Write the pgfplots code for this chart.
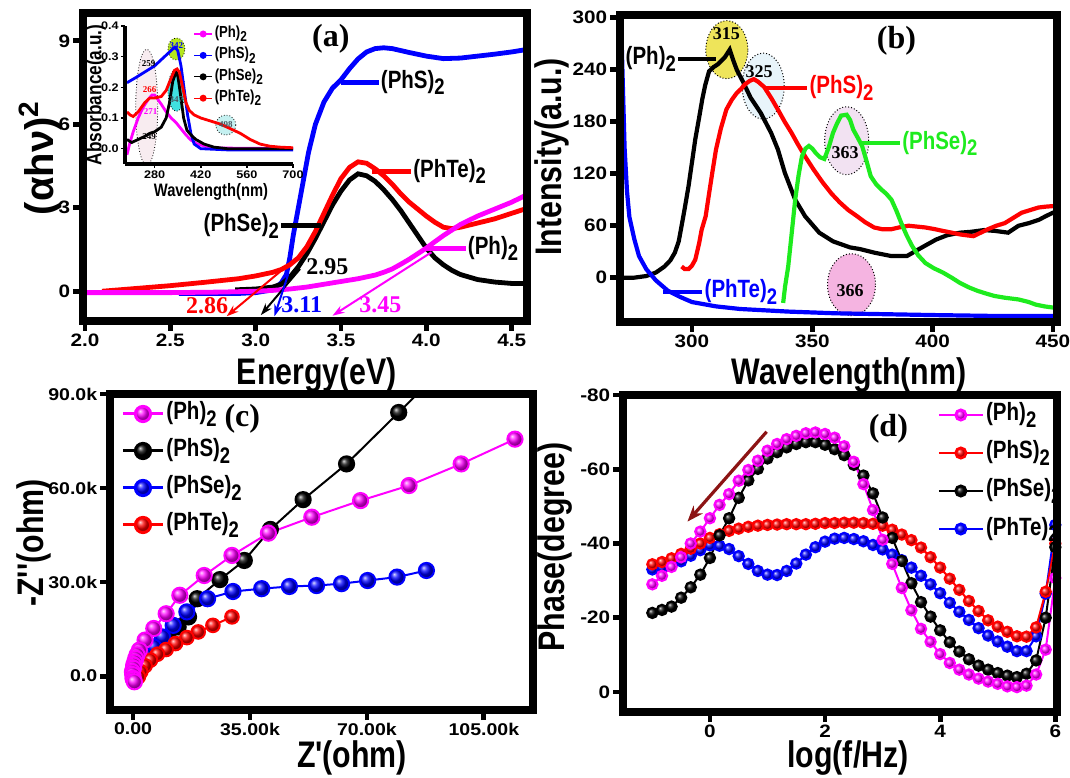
\documentclass[border=0pt]{standalone}
\usepackage{fontspec}
\setmainfont{Liberation Sans}
\newfontfamily\cond[FakeStretch=0.82]{Liberation Sans}
\newfontfamily\tickf[FakeStretch=1.15]{Liberation Sans}
\newfontfamily\tnr{Liberation Serif}
\usepackage{graphicx}
\usepackage{pgfplots}
\usepackage{pgfplotstable}
\pgfplotsset{compat=1.18}
\usetikzlibrary{arrows.meta,shapes.geometric}
\definecolor{cMag}{RGB}{255,0,255}
\definecolor{cBlue}{RGB}{0,0,255}
\definecolor{cRed}{RGB}{255,0,0}
\definecolor{cGreen}{RGB}{30,235,30}
\definecolor{cArrow}{RGB}{140,20,20}
\definecolor{eYellow}{RGB}{238,228,90}
\definecolor{eCyanL}{RGB}{232,244,250}
\definecolor{eLav}{RGB}{242,226,242}
\definecolor{ePink}{RGB}{245,180,225}
\definecolor{eGreen}{RGB}{181,230,29}
\definecolor{eCyan}{RGB}{64,224,224}
\definecolor{eCyan2}{RGB}{196,240,240}
\definecolor{eRose}{RGB}{248,236,240}
\newcommand\two{\raisebox{-0.5ex}{\scalebox{0.9}{2}}}
\newcommand\lblfont{\cond\bfseries\fontsize{18.5}{18.5}\selectfont}
\newcommand\crvfont{\cond\bfseries\fontsize{12.5}{12.5}\selectfont}
\newcommand\panfont{\tnr\bfseries\fontsize{16}{16}\selectfont}
\newcommand\frm[1]{\draw[line width=4.2pt, line join=miter] (#1.south west) rectangle (#1.north east);}

\pgfplotsset{
  mystyle/.style={scale only axis, anchor=south west,
    tick style={line width=2.4pt, black},
    major tick length=5pt, tick align=outside,
    xtick pos=bottom, ytick pos=left,
    ticklabel style={font=\tickf\bfseries\fontsize{9}{9}\selectfont, inner sep=1.2pt},
    /pgf/number format/assume math mode=true,
    legend cell align=left},
  ballmark/.style 2 args={#1, line width=1pt, mark=ball, mark size=#2, mark options={ball color=#1}},
}

\pgfplotstableread{
x Ph PhS PhSe PhTe
-1 -29 -34.4 -21.3 -33
-0.833 -31.3 -35 -22.1 -33.5
-0.667 -33.7 -36 -23 -34.2
-0.5 -36.3 -37.2 -25.4 -35.2
-0.333 -40 -38.6 -28.2 -36.7
-0.167 -43.2 -40 -31.6 -38.2
0 -46.8 -41.5 -36.1 -39.5
0.167 -50.4 -42.5 -42.2 -39.4
0.333 -53.3 -43.4 -46.8 -38.5
0.5 -56.9 -44 -52.3 -36.6
0.667 -59.8 -44.5 -57 -34.5
0.833 -62.3 -44.8 -60.1 -32.6
1 -65 -45 -62.9 -31.6
1.167 -66.8 -45.1 -64.6 -31.5
1.333 -68.1 -45.2 -65.9 -32.6
1.5 -69 -45.2 -66.8 -34.6
1.667 -69.7 -45.2 -67.3 -37
1.833 -69.9 -45.3 -67.3 -39
2 -69.5 -45.5 -66.6 -40.5
2.167 -68.5 -45.5 -65.4 -41.3
2.333 -66.2 -45.6 -63.8 -41.5
2.5 -62 -45.6 -61.2 -41.2
2.667 -56 -45.5 -58.3 -40.6
2.833 -49 -45.3 -53.5 -39.6
3 -41 -44.8 -47 -38.4
3.167 -34.5 -43.7 -41.5 -37
3.333 -28 -42.4 -35.3 -35.5
3.5 -22 -40.9 -29.3 -33.5
3.667 -17 -38.9 -24.2 -31.3
3.833 -13.5 -36.3 -20.3 -29
4 -10.2 -33.5 -16.6 -26.6
4.167 -7.8 -30.5 -13.4 -24
4.333 -6 -27.5 -10.9 -21.6
4.5 -4.7 -24.5 -8.8 -19.4
4.667 -3.6 -21.8 -7.1 -17.2
4.833 -2.8 -19.3 -6 -15.2
5 -2.2 -17.6 -5.1 -13.6
5.167 -1.5 -16.2 -4.4 -12.2
5.333 -1.3 -15 -4 -11
5.5 -1.7 -14.9 -4.9 -11
5.667 -4.7 -17.4 -8.5 -15
5.833 -11.4 -27 -20 -26.5
6 -30.7 -40 -39 -45
}\phasedata

\begin{document}
\begin{tikzpicture}
\useasboundingbox (0,0) rectangle (535pt,388.5pt);

%================ (a) =================
\begin{axis}[mystyle, name=pa, at={(41.5pt,228pt)}, width=222pt, height=154pt,
  xmin=1.988, xmax=4.59, ymin=-1.07, ymax=10,
  xtick={2,2.5,3,3.5,4,4.5}, xticklabels={2.0,2.5,3.0,3.5,4.0,4.5},
  ytick={0,3,6,9}]
\addplot[cBlue, line width=2.4pt] coordinates {(2.55,-0.08) (2.9,-0.08) (3.0,-0.05) (3.1,0.05) (3.15,0.3) (3.18,0.6) (3.2,1.2) (3.22,2.0) (3.25,3.0) (3.28,4.0) (3.31,5.0) (3.35,6.0) (3.4,6.8) (3.45,7.3) (3.5,7.6) (3.55,8.0) (3.6,8.35) (3.65,8.6) (3.7,8.72) (3.75,8.75) (3.8,8.72) (3.9,8.58) (4.0,8.45) (4.1,8.36) (4.2,8.38) (4.3,8.45) (4.4,8.52) (4.5,8.6) (4.6,8.7)};
\addplot[black, line width=2.4pt] coordinates {(2.88,0.05) (3.0,0.08) (3.1,0.15) (3.15,0.25) (3.2,0.5) (3.25,0.88) (3.3,1.35) (3.35,1.9) (3.4,2.5) (3.45,3.1) (3.5,3.6) (3.55,4.0) (3.6,4.22) (3.65,4.15) (3.7,3.95) (3.75,3.65) (3.8,3.3) (3.85,2.9) (3.9,2.45) (3.95,2.0) (4.0,1.55) (4.05,1.2) (4.1,0.95) (4.15,0.75) (4.2,0.6) (4.3,0.42) (4.4,0.33) (4.5,0.28) (4.6,0.28)};
\addplot[cRed, line width=2.4pt] coordinates {(2.1,0.0) (2.3,0.1) (2.5,0.2) (2.7,0.32) (2.9,0.45) (3.0,0.55) (3.1,0.68) (3.15,0.78) (3.2,0.95) (3.25,1.2) (3.3,1.6) (3.35,2.15) (3.4,2.8) (3.45,3.45) (3.5,4.05) (3.55,4.45) (3.6,4.65) (3.65,4.6) (3.7,4.4) (3.75,4.15) (3.8,3.85) (3.85,3.5) (3.9,3.2) (3.95,2.95) (4.0,2.7) (4.05,2.48) (4.1,2.3) (4.15,2.25) (4.2,2.3) (4.3,2.45) (4.4,2.6) (4.5,2.8) (4.6,3.0)};
\addplot[cMag, line width=2.4pt] coordinates {(1.99,-0.05) (2.5,-0.05) (2.8,-0.03) (3.0,0.0) (3.1,0.03) (3.2,0.08) (3.3,0.15) (3.4,0.25) (3.5,0.35) (3.6,0.45) (3.7,0.58) (3.75,0.68) (3.8,0.8) (3.85,0.97) (3.9,1.15) (3.95,1.35) (4.0,1.55) (4.05,1.78) (4.1,2.0) (4.15,2.2) (4.2,2.4) (4.3,2.7) (4.4,2.95) (4.5,3.2) (4.6,3.5)};
% tangents
\addplot[cRed, line width=1pt, -{Stealth[length=6pt,width=4pt]}] coordinates {(3.24,1.2) (2.83,-0.9)};
\addplot[black, line width=1pt, -{Stealth[length=6pt,width=4pt]}] coordinates {(3.26,0.8) (3.03,-0.86)};
\addplot[cBlue, line width=1pt, -{Stealth[length=6pt,width=4pt]}] coordinates {(3.19,0.6) (3.11,-0.9)};
\addplot[cMag, line width=1pt, -{Stealth[length=6pt,width=4pt]}] coordinates {(4.03,1.4) (3.45,-0.88)};
\node[cRed, font=\tnr\bfseries\fontsize{12}{12}\selectfont] at (axis cs:2.715,-0.52) {2.86};
\node[cBlue, font=\tnr\bfseries\fontsize{12}{12}\selectfont] at (axis cs:3.27,-0.5) {3.11};
\node[cMag, font=\tnr\bfseries\fontsize{12}{12}\selectfont] at (axis cs:3.73,-0.5) {3.45};
\node[black, font=\tnr\bfseries\fontsize{12}{12}\selectfont] at (axis cs:3.42,0.88) {2.95};
% curve labels
\addplot[cBlue, line width=2.4pt] coordinates {(3.5,7.5) (3.72,7.5)};
\node[anchor=west, inner sep=1pt, font=\crvfont] at (axis cs:3.72,7.5) {(PhS)\two};
\addplot[cRed, line width=2.4pt] coordinates {(3.68,4.31) (3.91,4.31)};
\node[anchor=west, inner sep=1pt, font=\crvfont] at (axis cs:3.91,4.31) {(PhTe)\two};
\addplot[black, line width=2.4pt] coordinates {(3.15,2.35) (3.38,2.35)};
\node[anchor=east, inner sep=1pt, font=\crvfont] at (axis cs:3.15,2.35) {(PhSe)\two};
\addplot[cMag, line width=2.4pt] coordinates {(4.0,1.54) (4.23,1.54)};
\node[anchor=west, inner sep=1pt, font=\crvfont] at (axis cs:4.23,1.54) {(Ph)\two};
\node[font=\panfont] at (axis cs:3.44,9.07) {(a)};
\end{axis}
\frm{pa}

%================ inset =================
\begin{axis}[scale only axis, anchor=south west, at={(62.5pt,306.5pt)}, width=84pt, height=69pt,
  xmin=190, xmax=700, ymin=-0.05, ymax=0.4,
  axis lines=left, axis line style={line width=1.2pt, -},
  tick style={line width=0.8pt, black}, major tick length=2pt, tick align=outside,
  xtick={280,420,560,700}, ytick={0,0.1,0.2,0.3,0.4}, yticklabels={0.0,0.1,0.2,0.3,0.4},
  ticklabel style={font=\tickf\bfseries\fontsize{5.5}{5.5}\selectfont, inner sep=1pt},
  /pgf/number format/assume math mode=true, clip=false,
  legend cell align=left,
  legend style={at={(0.37,1.05)}, anchor=north west, draw=none, fill=none,
    font=\cond\bfseries\fontsize{8}{8}\selectfont, row sep=0.2pt,
    nodes={inner sep=1pt, text height=6pt, text depth=2.5pt}},
  legend image code/.code={\draw[#1, line width=0.6pt] (0pt,0pt) -- (9pt,0pt); \fill[#1] (4.5pt,0pt) circle (1pt);},
  after end axis/.code={\draw[line width=1.6pt] (rel axis cs:0,0) -- (rel axis cs:1,0); \draw[line width=1.6pt] (rel axis cs:0,0) -- (rel axis cs:0,1);}]
\node[ellipse, draw=black, densely dotted, line width=0.4pt, fill=eRose, minimum width=11pt, minimum height=58pt, inner sep=0pt] at (axis cs:256,0.135) {};
\node[ellipse, draw=black, densely dotted, line width=0.4pt, fill=eGreen, minimum width=8.5pt, minimum height=11pt, inner sep=0pt] at (axis cs:346,0.325) {};
\node[ellipse, draw=black, densely dotted, line width=0.4pt, fill=eCyan, minimum width=8.5pt, minimum height=21pt, inner sep=0pt] at (axis cs:346,0.19) {};
\node[ellipse, draw=black, densely dotted, line width=0.4pt, fill=eCyan2, minimum width=10pt, minimum height=10pt, inner sep=0pt] at (axis cs:496,0.077) {};
\addplot[cMag, line width=1.4pt] coordinates {(196,-0.02) (205,0.02) (215,0.055) (230,0.1) (245,0.135) (260,0.16) (272,0.175) (280,0.175) (290,0.16) (300,0.145) (315,0.12) (330,0.1) (345,0.085) (360,0.065) (375,0.045) (390,0.028) (410,0.015) (440,0.006) (480,0.002) (700,0.0)};
\addlegendentry{(Ph)\two}
\addplot[cBlue, line width=1.4pt] coordinates {(196,0.215) (220,0.23) (250,0.25) (280,0.27) (300,0.29) (320,0.31) (335,0.325) (342,0.33) (350,0.32) (360,0.27) (370,0.19) (380,0.11) (390,0.05) (400,0.015) (420,0.0) (500,-0.004) (600,-0.004) (700,-0.004)};
\addlegendentry{(PhS)\two}
\addplot[black, line width=1.4pt] coordinates {(196,0.03) (210,0.02) (230,0.03) (250,0.04) (265,0.05) (280,0.055) (300,0.07) (315,0.1) (325,0.15) (335,0.22) (345,0.25) (350,0.24) (358,0.18) (368,0.1) (378,0.06) (390,0.045) (405,0.03) (430,0.015) (460,0.005) (500,0.0) (700,0.0)};
\addlegendentry{(PhSe)\two}
\addplot[cRed, line width=1.4pt] coordinates {(196,0.12) (205,0.11) (215,0.105) (230,0.12) (250,0.15) (265,0.165) (280,0.165) (300,0.17) (315,0.19) (330,0.23) (340,0.255) (348,0.26) (355,0.25) (365,0.2) (375,0.15) (385,0.125) (400,0.11) (420,0.1) (450,0.09) (480,0.08) (510,0.065) (540,0.05) (570,0.03) (600,0.015) (630,0.008) (660,0.005) (700,0.003)};
\addlegendentry{(PhTe)\two}
\node[font=\tnr\bfseries\fontsize{4.5}{4.5}\selectfont, text=black] at (axis cs:262,0.277) {259};
\node[font=\tnr\bfseries\fontsize{4.5}{4.5}\selectfont, text=cRed] at (axis cs:265,0.194) {266};
\node[font=\tnr\bfseries\fontsize{4.5}{4.5}\selectfont, text=cMag] at (axis cs:268,0.12) {271};
\node[font=\tnr\bfseries\fontsize{4.5}{4.5}\selectfont, text=black] at (axis cs:263,0.04) {249};
\node[font=\tnr\bfseries\fontsize{4.5}{4.5}\selectfont, text=cBlue] at (axis cs:346,0.337) {342};
\node[font=\tnr\bfseries\fontsize{4.5}{4.5}\selectfont, text=black!70!cyan] at (axis cs:346,0.16) {347};
\node[font=\tnr\bfseries\fontsize{4.5}{4.5}\selectfont, text=black!70!cyan] at (axis cs:496,0.077) {498};
\end{axis}
\node[font=\cond\bfseries\fontsize{9}{9}\selectfont] at (105.5pt,292.5pt) {Wavelength(nm)};
\node[rotate=90, font=\cond\bfseries\fontsize{10.5}{10.5}\selectfont] at (48pt,341pt) {Absorbance(a.u.)};

%================ (b) =================
\begin{axis}[mystyle, name=pb, at={(310pt,227.5pt)}, width=218.5pt, height=153.5pt,
  xmin=270.1, xmax=451.7, ymin=-51, ymax=303,
  xtick={300,350,400,450}, ytick={0,60,120,180,240,300}]
\node[ellipse, draw=black, densely dotted, line width=0.5pt, fill=eYellow, minimum width=21pt, minimum height=29pt, inner sep=0pt] at (axis cs:314.5,263) {};
\node[ellipse, draw=black, densely dotted, line width=0.5pt, fill=eCyanL, minimum width=21pt, minimum height=33pt, inner sep=0pt] at (axis cs:329.6,221) {};
\node[ellipse, draw=black, densely dotted, line width=0.5pt, fill=eLav, minimum width=22pt, minimum height=34pt, inner sep=0pt] at (axis cs:364.3,158) {};
\node[ellipse, draw=black, densely dotted, line width=0.5pt, fill=ePink, minimum width=24pt, minimum height=31pt, inner sep=0pt] at (axis cs:366.3,-8) {};
\addplot[black, line width=2.1pt] coordinates {(270.1,0) (275.7,0) (281,2) (285,6) (288.6,13) (291,20) (292.9,29) (294.5,42) (295.7,60) (297,80) (298.6,106) (300,133) (301.4,160) (303,185) (304.3,206) (305.5,222) (307.1,238) (309,243) (310.7,246) (313.6,254) (315.7,263) (317,252) (318.6,240) (321.4,225) (324.3,208) (328.6,190) (332.9,167) (335.7,148) (338.6,121) (342.9,90) (347,71) (352.9,52) (358.6,42) (365.7,35) (370,33) (375.7,29) (382.9,25) (389.3,25) (394.3,33) (401.4,44) (406,49) (411.4,52) (416,53) (421.4,55) (426,54) (431.4,52) (435.7,60) (440,63) (444.3,67) (447,71) (450,75) (451.7,76)};
\addplot[cRed, line width=2.1pt] coordinates {(295.7,13) (297,10) (298.6,10) (300,14) (301.4,21) (303,40) (304,55) (305.7,71) (307,95) (308.5,122) (310,148) (312,172) (314.3,194) (316.5,205) (318.6,213) (320.5,218) (322,223) (324,227) (325.7,229) (327.5,226) (330,220) (333,207) (335.7,194) (338.5,180) (341.4,167) (344,154) (347,140) (350.5,125) (354.3,110) (358,97) (361.4,87) (365,78) (368.6,71) (372,64) (375.7,58) (379,56) (382.9,56) (386,58) (390,60) (393.5,59) (397,58) (401,56) (404.3,54) (408,52) (411.4,50) (414,49) (417,48) (420,52) (423,56) (426.5,60) (430,63) (433.5,69) (437,75) (440.5,78) (444,81) (447,82) (451.7,83)};
\addplot[cGreen, line width=2.1pt] coordinates {(337.9,-29) (338.7,-10) (340,13) (341.4,50) (342.9,90) (344.3,118) (345.7,140) (347.2,149) (348.6,152) (350,149) (351.4,144) (353.2,139) (355,137) (356.8,150) (358.6,167) (360.3,178) (362,187) (364.3,188) (365.7,182) (367,171) (368.8,162) (370.7,152) (372.5,135) (374.3,117) (376.5,108) (378.6,102) (380.7,97) (382.9,90) (385,77) (387,63) (389.2,49) (391.4,37) (394,26) (397,17) (400.5,11) (404.3,6) (408,0) (411.4,-6) (415,-11) (418.6,-15) (422,-18) (425.7,-21) (430,-23) (435.7,-25) (440,-28) (442.9,-31) (446.5,-33) (451.7,-35)};
\addplot[cBlue, line width=2.1pt] coordinates {(270.5,305) (271,250) (271.5,200) (272,150) (273,100) (274,70) (276,45) (278,25) (281,10) (285,-3) (290,-15) (295,-22) (300,-28) (310,-33) (320,-36) (340,-39) (360,-41) (380,-42) (400,-43) (425,-44) (451.7,-44)};
\node[font=\tnr\bfseries\fontsize{9}{9}\selectfont] at (axis cs:314.3,281) {315};
\node[font=\tnr\bfseries\fontsize{9}{9}\selectfont] at (axis cs:327.9,238) {325};
\node[font=\tnr\bfseries\fontsize{9}{9}\selectfont] at (axis cs:363.6,144) {363};
\node[font=\tnr\bfseries\fontsize{9}{9}\selectfont] at (axis cs:365.7,-15) {366};
\addplot[black, line width=2.1pt] coordinates {(294.3,252) (310,252)};
\node[anchor=east, inner sep=1pt, font=\crvfont] at (axis cs:294.3,252) {(Ph)\two};
\addplot[cRed, line width=2.1pt] coordinates {(330,219) (347.9,219)};
\node[anchor=west, inner sep=1pt, font=\crvfont, text=cRed] at (axis cs:347.9,219) {(PhS)\two};
\addplot[cGreen, line width=2.1pt] coordinates {(370,155) (386.4,155)};
\node[anchor=west, inner sep=1pt, font=\crvfont, text=cGreen] at (axis cs:386.4,155) {(PhSe)\two};
\addplot[cBlue, line width=2.1pt] coordinates {(287.9,-16) (304.3,-16)};
\node[anchor=west, inner sep=1pt, font=\crvfont, text=cBlue] at (axis cs:304.3,-16) {(PhTe)\two};
\node[font=\panfont] at (axis cs:385,273) {(b)};
\end{axis}
\frm{pb}

%================ (c) =================
\begin{axis}[mystyle, name=pc, at={(55pt,33.5pt)}, width=211.5pt, height=158pt,
  xmin=-6.9, xmax=119.7, ymin=-10.8, ymax=90,
  xtick={0,35,70,105}, xticklabels={0.00,35.00k,70.00k,105.00k},
  ytick={0,30,60,90}, yticklabels={0.0,30.0k,60.0k,90.0k},
  ticklabel style={font=\tickf\bfseries\fontsize{8.5}{8.5}\selectfont},
  legend style={at={(0.012,0.995)}, anchor=north west, draw=none, fill=none,
    font=\crvfont, row sep=4.5pt, nodes={inner sep=1pt, text height=9pt, text depth=3pt}},
  legend image code/.code={\draw[mark repeat=2, mark phase=2, #1] plot coordinates {(0pt,0pt) (10pt,0pt) (20pt,0pt)};}]
\addlegendimage{ballmark={cMag}{3.8pt}, line width=1.5pt}
\addlegendentry{(Ph)\two}
\addlegendimage{ballmark={black}{3.8pt}, line width=1.5pt}
\addlegendentry{(PhS)\two}
\addlegendimage{ballmark={cBlue}{3.8pt}, line width=1.5pt}
\addlegendentry{(PhSe)\two}
\addlegendimage{ballmark={cRed}{3.8pt}, line width=1.5pt}
\addlegendentry{(PhTe)\two}
\addplot[forget plot, ballmark={black}{3.8pt}] coordinates {(95.5,101) (79.5,84.1) (63.9,67.7) (50.9,56.3) (41.1,46.8) (33.3,36.9) (26.0,30.8) (19.2,24.7) (16.6,18.9) (13.5,15.7) (10.5,12.5) (8.0,9.8) (5.8,7.2) (3.9,4.8) (2.3,2.6) (1.0,0.8) (0.3,-0.5)};
\addplot[forget plot, ballmark={cBlue}{3.8pt}] coordinates {(87.8,33.7) (79.0,31.6) (70.2,30.5) (62.4,29.5) (54.9,28.9) (46.8,28.6) (38.5,27.9) (29.9,27.0) (22.3,24.7) (16.1,20.5) (12.0,16.2) (8.8,12.5) (6.2,9.3) (4.2,6.2) (2.6,3.5) (1.0,0.8)};
\addplot[forget plot, ballmark={cRed}{3.4pt}] coordinates {(29.6,18.9) (23.9,16.2) (19.5,14.1) (16.1,12.3) (12.7,10.4) (9.9,8.5) (7.3,7.0) (5.2,5.1) (3.6,3.3) (2.3,1.4) (1.6,-0.2)};
\addplot[forget plot, ballmark={cMag}{3.8pt}] coordinates {(114.3,75.6) (98.2,67.7) (82.6,60.8) (68.1,56.0) (53.5,50.7) (40.5,45.6) (29.6,38.5) (21.3,32.1) (14.0,25.8) (9.9,19.9) (6.2,15.2) (3.6,11.5) (1.9,8.3) (1.2,6.8) (0.8,5.6) (0.5,4.5) (0.2,3.5) (0.1,2.5) (-0.2,1.4) (-0.1,0.5) (0.0,-0.7) (0.1,-1.0) (0.4,-1.8)};
\node[font=\panfont] at (axis cs:32.7,82) {(c)};
\end{axis}
\frm{pc}

%================ (d) =================
\begin{axis}[mystyle, name=pd, at={(311.5pt,32.5pt)}, width=217pt, height=158.5pt,
  xmin=-1.51, xmax=6.03, ymin=-80, ymax=5.4, y dir=reverse,
  xtick={0,2,4,6}, ytick={-80,-60,-40,-20,0}, yticklabels={-80,-60,-40,-20,0},
  legend style={at={(0.71,0.995)}, anchor=north west, draw=none, fill=none,
    font=\crvfont, row sep=5pt, nodes={inner sep=1pt, text height=9pt, text depth=3pt}},
  legend image code/.code={\draw[mark repeat=2, mark phase=2, #1] plot coordinates {(0pt,0pt) (11pt,0pt) (22pt,0pt)};}]
\addlegendimage{ballmark={cMag}{2.6pt}, line width=1.3pt}
\addlegendentry{(Ph)\two}
\addlegendimage{ballmark={cRed}{2.6pt}, line width=1.3pt}
\addlegendentry{(PhS)\two}
\addlegendimage{ballmark={black}{2.6pt}, line width=1.3pt}
\addlegendentry{(PhSe)\two}
\addlegendimage{ballmark={cBlue}{2.6pt}, line width=1.3pt}
\addlegendentry{(PhTe)\two}
\addplot[forget plot, ballmark={cBlue}{2.6pt}] table[x=x, y=PhTe] {\phasedata};
\addplot[forget plot, ballmark={cRed}{2.6pt}] table[x=x, y=PhS] {\phasedata};
\addplot[forget plot, ballmark={black}{2.6pt}] table[x=x, y=PhSe] {\phasedata};
\addplot[forget plot, ballmark={cMag}{2.6pt}] table[x=x, y=Ph] {\phasedata};
\addplot[forget plot, cArrow, line width=1.6pt, -{Stealth[length=8pt,width=6pt]}] coordinates {(0.985,-70.1) (-0.39,-45.9)};
\node[font=\panfont] at (axis cs:3.1,-71) {(d)};
\end{axis}
\frm{pd}

%================ axis titles =================
\node[rotate=90, inner sep=0pt, font=\bfseries\fontsize{20}{20}\selectfont] at (20pt,309.5pt) {(αhν)\textsuperscript{2}};
\node[inner sep=0pt, font=\lblfont] at (158.5pt,201pt) {Energy(eV)};
\node[rotate=90, inner sep=0pt, font=\lblfont] at (276pt,310pt) {Intensity(a.u.)};
\node[inner sep=0pt, font=\lblfont] at (424.5pt,201pt) {Wavelength(nm)};
\node[rotate=90, inner sep=0pt, font=\lblfont] at (17pt,117pt) {-Z\char"0027\char"0027(ohm)};
\node[inner sep=0pt, font=\lblfont] at (176pt,9.5pt) {Z\char"0027(ohm)};
\node[rotate=90, inner sep=0pt, font=\lblfont] at (277.5pt,115pt) {Phase(degree)};
\node[inner sep=0pt, font=\lblfont] at (424pt,9.5pt) {log(f/Hz)};
\end{tikzpicture}
\end{document}
